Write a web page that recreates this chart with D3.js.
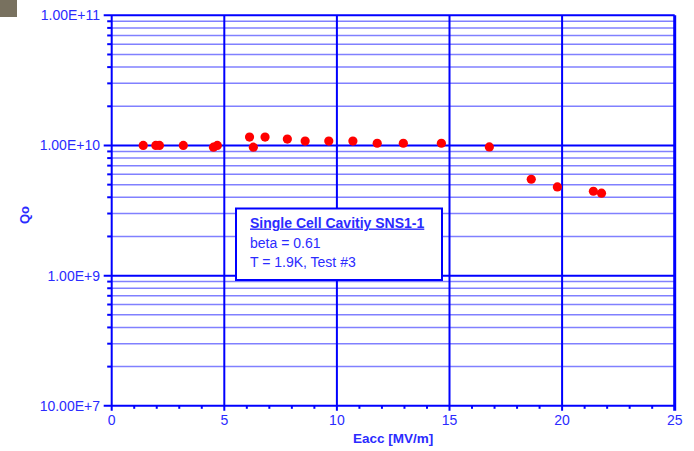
<!DOCTYPE html>
<html><head><meta charset="utf-8">
<script src="https://cdn.jsdelivr.net/npm/d3@7"></script>
<style>body{margin:0;background:#fff;}svg{display:block;font-family:Arial,"Liberation Sans",sans-serif;}</style>
</head><body><svg id="c" width="694" height="451"></svg>
<script>
const eacc = [1.40,1.96,2.12,3.18,4.52,4.69,6.12,6.29,6.81,7.80,8.59,9.64,10.71,11.79,12.95,14.64,16.77,18.63,19.79,21.39,21.75];
const qo   = [1.0e10,1.0e10,1.0e10,1.0e10,0.97e10,1.0e10,1.16e10,0.97e10,1.16e10,1.12e10,1.08e10,1.08e10,1.08e10,1.04e10,1.04e10,1.04e10,0.975e10,0.55e10,0.48e10,0.445e10,0.43e10];
const xTicks = [0,5,10,15,20,25];
const yTicks = [1e8,1e9,1e10,1e11];
const yTickLabels = ["10.00E+7","1.00E+9","1.00E+10","1.00E+11"];
const legendLines = ["Single Cell Cavitiy SNS1-1","beta = 0.61","T = 1.9K, Test #3"];
const xTitle = "Eacc [MV/m]", yTitle = "Qo";

const svg = d3.select("#c");
const L=111.7, R=674.7, T=15.3, B=405.8;
const x = d3.scaleLinear().domain([0,25]).range([L,R]);
const y = d3.scaleLog().domain([1e8,1e11]).range([B,T]);
const blue="#0000ff", light="#8080ff", txt="#2b2bff";

svg.append("rect").attr("x",0).attr("y",0).attr("width",17).attr("height",17).attr("fill","#78715f");

// minor gridlines
const minors=[];
[1e8,1e9,1e10].forEach(d=>{for(let k=2;k<=9;k++)minors.push(d*k);});
svg.append("g").selectAll("line").data(minors).join("line")
  .attr("x1",L).attr("x2",R).attr("y1",d=>y(d)).attr("y2",d=>y(d))
  .attr("stroke",light).attr("stroke-width",1.5);
// minor ticks left
svg.append("g").selectAll("line").data(minors).join("line")
  .attr("x1",L-4.5).attr("x2",L).attr("y1",d=>y(d)).attr("y2",d=>y(d))
  .attr("stroke",blue).attr("stroke-width",2);
// major horizontal gridlines
svg.append("g").selectAll("line").data(yTicks).join("line")
  .attr("x1",L-8).attr("x2",R).attr("y1",d=>y(d)).attr("y2",d=>y(d))
  .attr("stroke",blue).attr("stroke-width",2);
// vertical gridlines
svg.append("g").selectAll("line").data(xTicks).join("line")
  .attr("x1",d=>x(d)).attr("x2",d=>x(d)).attr("y1",T).attr("y2",B+5)
  .attr("stroke",blue).attr("stroke-width",d=>d===25?3:2);
// x minor ticks
svg.append("g").selectAll("line").data(d3.range(0,26).filter(d=>d%5!==0)).join("line")
  .attr("x1",d=>x(d)).attr("x2",d=>x(d)).attr("y1",B).attr("y2",B+3)
  .attr("stroke",blue).attr("stroke-width",2);

// y tick labels
svg.append("g").selectAll("text").data(yTicks).join("text")
  .attr("x",100).attr("y",d=>y(d)+5).attr("text-anchor","end")
  .attr("font-size",14).attr("fill",txt).text((d,i)=>yTickLabels[i]);
// x tick labels
svg.append("g").selectAll("text").data(xTicks).join("text")
  .attr("x",d=>x(d)).attr("y",424.5).attr("text-anchor","middle")
  .attr("font-size",14).attr("fill",txt).text(d=>d);

svg.append("text").attr("x",x(12.5)).attr("y",443).attr("text-anchor","middle")
  .attr("font-size",13.5).attr("font-weight","bold").attr("fill",txt).text(xTitle);
svg.append("text").attr("transform","translate(29,215) rotate(-90)").attr("text-anchor","middle")
  .attr("font-size",13).attr("font-weight","bold").attr("fill",txt).text(yTitle);

// legend box
svg.append("rect").attr("x",236).attr("y",208.5).attr("width",206).attr("height",71.5)
  .attr("fill","#fff").attr("stroke",blue).attr("stroke-width",2);
svg.append("text").attr("x",250).attr("y",227.5).attr("font-size",14).attr("font-weight","bold")
  .attr("fill",txt).attr("text-decoration","underline").text(legendLines[0]);
svg.append("text").attr("x",250).attr("y",247.5).attr("font-size",14).attr("fill",txt).text(legendLines[1]);
svg.append("text").attr("x",250).attr("y",266.5).attr("font-size",14).attr("fill",txt).text(legendLines[2]);

// data points
svg.append("g").selectAll("circle").data(eacc).join("circle")
  .attr("cx",d=>x(d)).attr("cy",(d,i)=>y(qo[i])).attr("r",4.6).attr("fill","#ff0000");
</script></body></html>
